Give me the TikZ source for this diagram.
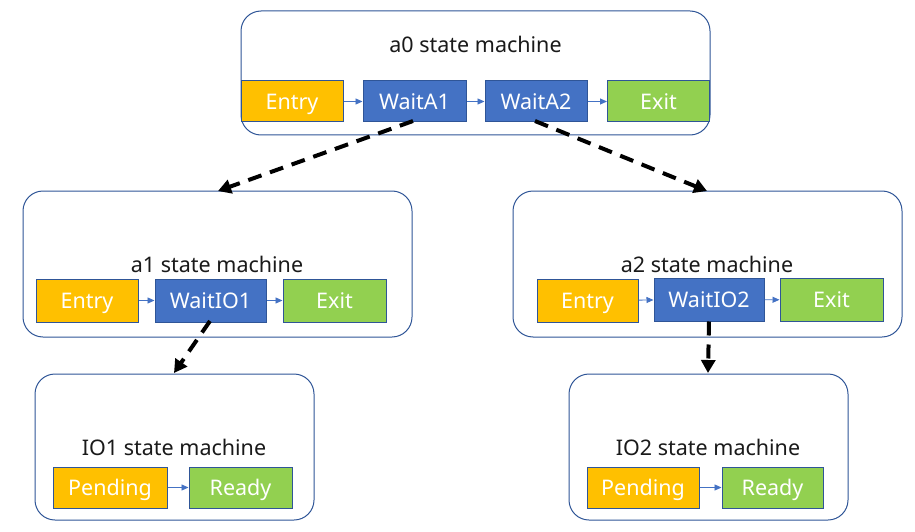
\documentclass[tikz,border=0pt]{standalone}
\usepackage{fontspec}
\setmainfont{Noto Sans}
\usetikzlibrary{arrows.meta}
\definecolor{cOrange}{HTML}{FFC000}
\definecolor{cBlue}{HTML}{4472C4}
\definecolor{cGreen}{HTML}{92D050}
\definecolor{cEdge}{HTML}{2F5597}
\definecolor{cText}{HTML}{1A1A1A}
\tikzset{
  machine/.style={draw=cEdge, line width=1pt, rounded corners=20pt, fill=white, inner sep=0pt},
  statebox/.style={draw=cEdge, line width=1pt, inner sep=0pt, text=white, font=\fontsize{21.5}{24}\selectfont, text height=15.4pt, text depth=0pt},
  title/.style={text=cText, font=\fontsize{21.5}{24}\selectfont, inner sep=0pt, text height=15.4pt, text depth=0pt},
  small/.style={draw=cBlue, line width=0.9pt, -{Triangle[length=7pt,width=6pt]}},
  big/.style={draw=black, line width=4pt, dash pattern=on 14pt off 9pt, -{Triangle[length=13pt,width=14pt]}}
}
\begin{document}
\begin{tikzpicture}[x=1pt,y=-1pt]
\useasboundingbox (0,0) rectangle (915,532);
% containers
\draw[machine] (241,11) rectangle (710,135);
\draw[machine] (23,191) rectangle (412,337);
\draw[machine] (513,191) rectangle (902,337);
\draw[machine] (35,374) rectangle (314,520);
\draw[machine] (569,374) rectangle (848,520);
% titles
\node[title] (t0) at (475.5,45) {a0 state machine};
\node[title] (t1) at (217,265) {a1 state machine};
\node[title] (t2) at (707,265) {a2 state machine};
\node[title] (t3) at (174,448) {IO1 state machine};
\node[title] (t4) at (708,448) {IO2 state machine};
% a0 boxes
\node[statebox, fill=cOrange, minimum width=102pt, minimum height=41pt] (a0e) at (292,101.5) {Entry};
\node[statebox, fill=cBlue, minimum width=103pt, minimum height=41pt] (a0w1) at (414.5,101.5) {WaitA1};
\node[statebox, fill=cBlue, minimum width=102pt, minimum height=41pt] (a0w2) at (536,101.5) {WaitA2};
\node[statebox, fill=cGreen, minimum width=102pt, minimum height=41pt] (a0x) at (658.5,101.5) {Exit};
% a1 boxes
\node[statebox, fill=cOrange, minimum width=102pt, minimum height=43pt] (a1e) at (87,300.5) {Entry};
\node[statebox, fill=cBlue, minimum width=111pt, minimum height=43pt] (a1w) at (210.5,300.5) {WaitIO1};
\node[statebox, fill=cGreen, minimum width=103pt, minimum height=43pt] (a1x) at (334.5,300.5) {Exit};
% a2 boxes
\node[statebox, fill=cOrange, minimum width=101pt, minimum height=43pt] (a2e) at (587.5,300.5) {Entry};
\node[statebox, fill=cBlue, minimum width=110pt, minimum height=43pt] (a2w) at (709,299.5) {WaitIO2};
\node[statebox, fill=cGreen, minimum width=103pt, minimum height=43pt] (a2x) at (831.5,300) {Exit};
% IO1 boxes
\node[statebox, fill=cOrange, minimum width=114pt, minimum height=41pt] (i1p) at (110,487.5) {Pending};
\node[statebox, fill=cGreen, minimum width=103pt, minimum height=41pt] (i1r) at (240.5,487.5) {Ready};
% IO2 boxes
\node[statebox, fill=cOrange, minimum width=112pt, minimum height=41pt] (i2p) at (643,487.5) {Pending};
\node[statebox, fill=cGreen, minimum width=101pt, minimum height=41pt] (i2r) at (772.5,487.5) {Ready};
% small arrows
\draw[small] (a0e) -- (a0w1);
\draw[small] (a0w1) -- (a0w2);
\draw[small] (a0w2) -- (a0x);
\draw[small] (a1e) -- (a1w);
\draw[small] (a1w) -- (a1x);
\draw[small] (a2e) -- (a2w);
\draw[small] (a2w) -- (a2x);
\draw[small] (i1p) -- (i1r);
\draw[small] (i2p) -- (i2r);
% big dashed arrows
\coordinate (s1) at (413,121);
\coordinate (s2) at (535,121);
\coordinate (s3) at (210,321);
\coordinate (m1) at (218,191);
\coordinate (m2) at (707,191);
\coordinate (m3) at (174,373);
\coordinate (m4) at (708,373);
\draw[big] (s1) -- (m1);
\draw[big] (s2) -- (m2);
\draw[big] (s3) -- (m3);
\draw[big] (a2w.south) -- (m4);
\end{tikzpicture}
\end{document}
